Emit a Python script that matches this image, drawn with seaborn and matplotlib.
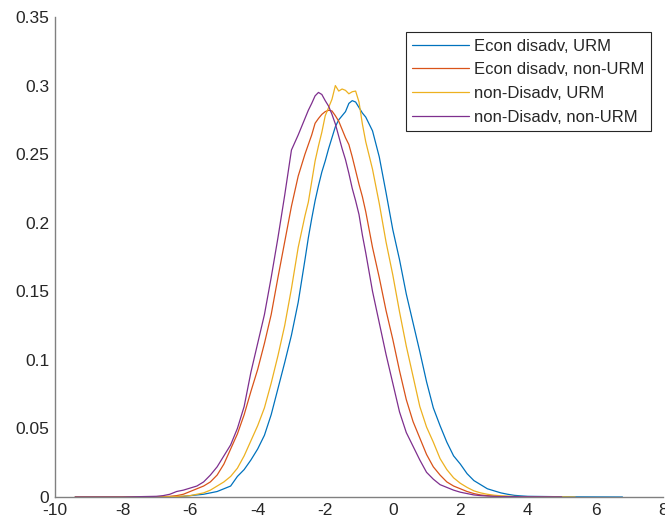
import numpy as np
import pandas as pd
import matplotlib
matplotlib.use('Agg')
import matplotlib.pyplot as plt
import seaborn as sns

# bin centres (coarser in flat tails, finer around the peaks)
x = [-9.4, -8.0,
     -7.0, -6.8, -6.6, -6.4, -6.2, -6.0, -5.8, -5.6, -5.4, -5.2, -5.0, -4.8,
     -4.6, -4.4, -4.2, -4.0, -3.8, -3.6, -3.4, -3.2, -3.0, -2.8, -2.6,
     -2.5, -2.4, -2.3, -2.2, -2.1, -2.0, -1.9, -1.8, -1.7, -1.6, -1.5, -1.4,
     -1.3, -1.2, -1.1, -1.0, -0.9, -0.8,
     -0.6, -0.4, -0.2, 0.0, 0.2, 0.4, 0.6, 0.8, 1.0, 1.2, 1.4, 1.6, 1.8,
     2.0, 2.2, 2.4, 2.6, 2.8, 3.0, 3.2, 3.4, 3.6, 3.8, 4.0,
     5.0, 5.4, 6.8]

econ_urm = [0, 0,
            0, 0, 0.0002, 0.0003, 0.0005, 0.001, 0.0015, 0.002, 0.003, 0.004, 0.006, 0.008,
            0.015, 0.020, 0.027, 0.035, 0.045, 0.060, 0.079, 0.098, 0.118, 0.142, 0.173,
            0.189, 0.203, 0.216, 0.227, 0.237, 0.245, 0.254, 0.262, 0.270, 0.275, 0.278, 0.281,
            0.287, 0.289, 0.288, 0.284, 0.280, 0.277,
            0.267, 0.248, 0.222, 0.195, 0.173, 0.148, 0.127, 0.106, 0.084, 0.065, 0.052, 0.040, 0.030,
            0.024, 0.017, 0.012, 0.009, 0.006, 0.0045, 0.003, 0.002, 0.0012, 0.0008, 0.0005,
            0.0002, 0.0001, 0.0]

econ_nonurm = [0, 0,
               0.0002, 0.0003, 0.0005, 0.001, 0.002, 0.004, 0.006, 0.008, 0.011, 0.016, 0.024, 0.035,
               0.046, 0.060, 0.077, 0.093, 0.112, 0.133, 0.160, 0.186, 0.212, 0.234, 0.250,
               0.257, 0.264, 0.2725, 0.276, 0.279, 0.281, 0.282, 0.2815, 0.278, 0.274, 0.268, 0.262,
               0.257, 0.248, 0.238, 0.228, 0.219, 0.208,
               0.182, 0.160, 0.136, 0.115, 0.092, 0.071, 0.055, 0.043, 0.031, 0.022, 0.016, 0.011, 0.008,
               0.006, 0.004, 0.0025, 0.0015, 0.001, 0.0006, 0.0004, 0.0003, 0.0002, 0.0002, 0.0001,
               np.nan, np.nan, np.nan]

nondis_urm = [0, 0,
              0, 0.0001, 0.0002, 0.0004, 0.0006, 0.001, 0.002, 0.003, 0.005, 0.008, 0.011, 0.015,
              0.021, 0.030, 0.041, 0.052, 0.065, 0.083, 0.103, 0.125, 0.152, 0.182, 0.205,
              0.215, 0.230, 0.245, 0.256, 0.266, 0.278, 0.284, 0.290, 0.300, 0.296, 0.2975, 0.2965,
              0.294, 0.2955, 0.296, 0.288, 0.272, 0.259,
              0.239, 0.214, 0.186, 0.162, 0.135, 0.110, 0.088, 0.066, 0.051, 0.040, 0.028, 0.020, 0.014,
              0.010, 0.007, 0.0045, 0.003, 0.002, 0.0013, 0.0009, 0.0006, 0.0004, 0.0003, 0.0002,
              0.0001, 0.0, np.nan]

nondis_nonurm = [0, 0,
                 0.0005, 0.001, 0.002, 0.004, 0.005, 0.0065, 0.008, 0.011, 0.016, 0.022, 0.030, 0.038,
                 0.050, 0.066, 0.091, 0.112, 0.133, 0.160, 0.189, 0.220, 0.253, 0.264, 0.276,
                 0.282, 0.287, 0.2925, 0.295, 0.2935, 0.289, 0.285, 0.279, 0.272, 0.263, 0.254, 0.246,
                 0.236, 0.225, 0.216, 0.206, 0.191, 0.178,
                 0.150, 0.127, 0.104, 0.083, 0.062, 0.047, 0.037, 0.027, 0.018, 0.013, 0.009, 0.007, 0.005,
                 0.0035, 0.0025, 0.0015, 0.001, 0.0007, 0.0005, 0.0003, 0.0003, 0.0003, 0.0002, 0.0002,
                 0.0001, np.nan, np.nan]

groups = ['Econ disadv, URM', 'Econ disadv, non-URM',
          'non-Disadv, URM', 'non-Disadv, non-URM']
colors = ['#0072BD', '#D95319', '#EDB120', '#7E2F8E']

xticks = [-10, -8, -6, -4, -2, 0, 2, 4, 6, 8]
xlabels = ['-10', '-8', '-6', '-4', '-2', '0', '2', '4', '6', '8']
yticks = [0, 0.05, 0.1, 0.15, 0.2, 0.25, 0.3, 0.35]
ylabels = ['0', '0.05', '0.1', '0.15', '0.2', '0.25', '0.3', '0.35']

frames = []
for name, ys in zip(groups, [econ_urm, econ_nonurm, nondis_urm, nondis_nonurm]):
    frames.append(pd.DataFrame({'x': x, 'density': ys, 'group': name}))
df = pd.concat(frames, ignore_index=True).dropna()

sns.set_style('white')
plt.rcParams['font.family'] = ['Liberation Sans', 'DejaVu Sans']

fig = plt.figure(figsize=(6.65, 5.27), dpi=100)
ax = fig.add_axes([55 / 665, 1 - 497 / 527, 608 / 665, 480 / 527])

sns.lineplot(data=df, x='x', y='density', hue='group', hue_order=groups,
             palette=colors, estimator=None, sort=True, linewidth=0.9, ax=ax)

ax.set_xlim(-10, 8)
ax.set_ylim(0, 0.35)
ax.set_xticks(xticks)
ax.set_xticklabels(xlabels)
ax.set_yticks(yticks)
ax.set_yticklabels(ylabels)
ax.set_xlabel('')
ax.set_ylabel('')

for side in ['top', 'right']:
    ax.spines[side].set_visible(False)
for side in ['left', 'bottom']:
    ax.spines[side].set_color('#808080')
    ax.spines[side].set_linewidth(1.0)
ax.tick_params(direction='in', length=5, width=0.8, color='#404040',
               labelsize=12.5, labelcolor='#262626', pad=4)

leg = ax.legend(loc='upper right', bbox_to_anchor=(651 / 665, 1 - 32 / 527),
                bbox_transform=fig.transFigure, borderaxespad=0,
                fontsize=12, frameon=True, fancybox=False, framealpha=1,
                handlelength=3.4, handletextpad=0.3, borderpad=0.4,
                labelspacing=0.52)
leg.get_frame().set_edgecolor('#262626')
leg.get_frame().set_linewidth(0.8)
for line in leg.get_lines():
    line.set_linewidth(0.9)

fig.savefig('out.png', dpi=100)
